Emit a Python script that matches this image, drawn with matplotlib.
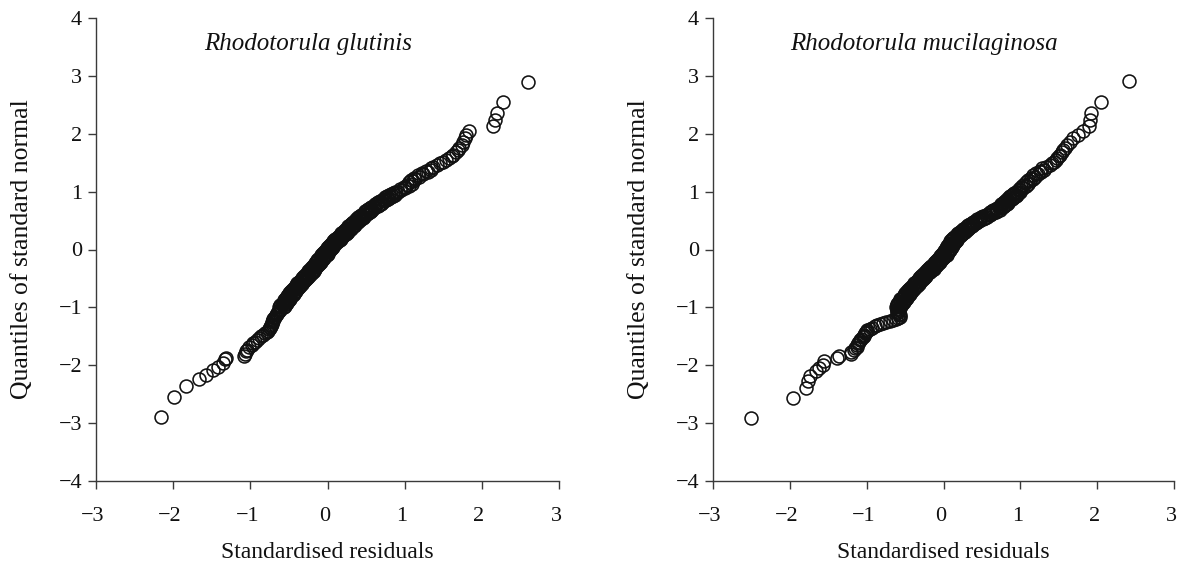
import matplotlib
matplotlib.use("Agg")
import matplotlib.pyplot as plt
from matplotlib.transforms import ScaledTranslation

plt.rcParams['font.family'] = ['Liberation Serif', 'DejaVu Serif']

# ---------------- data ----------------
titles = ["Rhodotorula glutinis", "Rhodotorula mucilaginosa"]
x_label = "Standardised residuals"
y_label = "Quantiles of standard normal"
x_ticks = [-3, -2, -1, 0, 1, 2, 3]
y_ticks = [-4, -3, -2, -1, 0, 1, 2, 3, 4]

mid_quantiles = [
    -1.00, -0.99, -0.98, -0.97, -0.96, -0.95, -0.94, -0.93, -0.92, -0.91,
    -0.90, -0.89, -0.88, -0.87, -0.86, -0.85, -0.84, -0.83, -0.82, -0.81,
    -0.80, -0.79, -0.78, -0.77, -0.76, -0.75, -0.74, -0.73, -0.72, -0.71,
    -0.70, -0.69, -0.68, -0.67, -0.66, -0.65, -0.64, -0.63, -0.62, -0.61,
    -0.60, -0.59, -0.58, -0.57, -0.56, -0.55, -0.54, -0.53, -0.52, -0.51,
    -0.50, -0.49, -0.48, -0.47, -0.46, -0.45, -0.44, -0.43, -0.42, -0.41,
    -0.40, -0.39, -0.38, -0.37, -0.36, -0.35, -0.34, -0.33, -0.32, -0.31,
    -0.30, -0.29, -0.28, -0.27, -0.26, -0.25, -0.24, -0.23, -0.22, -0.21,
    -0.20, -0.19, -0.18, -0.17, -0.16, -0.15, -0.14, -0.13, -0.12, -0.11,
    -0.10, -0.09, -0.08, -0.07, -0.06, -0.05, -0.04, -0.03, -0.02, -0.01,
    0.00, 0.01, 0.02, 0.03, 0.04, 0.05, 0.06, 0.07, 0.08, 0.09,
    0.10, 0.11, 0.12, 0.13, 0.14, 0.15, 0.16, 0.17, 0.18, 0.19,
    0.20, 0.21, 0.22, 0.23, 0.24, 0.25, 0.26, 0.27, 0.28, 0.29,
    0.30, 0.31, 0.32, 0.33, 0.34, 0.35, 0.36, 0.37, 0.38, 0.39,
    0.40, 0.41, 0.42, 0.43, 0.44, 0.45, 0.46, 0.47, 0.48, 0.49,
    0.50, 0.51, 0.52, 0.53, 0.54, 0.55, 0.56, 0.57, 0.58, 0.59,
    0.60, 0.61, 0.62, 0.63, 0.64, 0.65, 0.66, 0.67, 0.68, 0.69,
    0.70, 0.71, 0.72, 0.73, 0.74, 0.75, 0.76, 0.77, 0.78, 0.79,
    0.80, 0.81, 0.82, 0.83, 0.84, 0.85, 0.86, 0.87, 0.88, 0.89,
    0.90, 0.91, 0.92, 0.93, 0.94, 0.95, 0.96, 0.97, 0.98, 0.99,
]

# Rhodotorula glutinis
glutinis_quantiles = [
    -2.90, -2.55, -2.36, -2.24, -2.17, -2.08, -2.03, -1.96, -1.90, -1.87,
    -1.84, -1.80, -1.76, -1.73, -1.69, -1.65, -1.62, -1.59, -1.56, -1.53,
    -1.50, -1.47, -1.45, -1.42, -1.40, -1.38, -1.36, -1.34, -1.32, -1.30,
    -1.28, -1.26, -1.24, -1.22, -1.20, -1.18, -1.16, -1.14, -1.12, -1.10,
    -1.08, -1.06, -1.04, -1.02,
] + mid_quantiles + [
    1.00, 1.02, 1.04, 1.06, 1.08, 1.10, 1.12, 1.14, 1.16, 1.18,
    1.20, 1.22, 1.24, 1.26, 1.28, 1.30, 1.32, 1.34, 1.36, 1.38,
    1.40, 1.43, 1.46, 1.49, 1.52, 1.55, 1.58, 1.61, 1.64, 1.68,
    1.72, 1.76, 1.81, 1.86, 1.92, 1.98, 2.04, 2.13, 2.24, 2.36,
    2.55, 2.90,
]
glutinis_residuals = [
    -2.16, -1.99, -1.83, -1.66, -1.58, -1.49, -1.42, -1.35, -1.33, -1.31,
    -1.08, -1.07, -1.05, -1.04, -1.02, -0.98, -0.96, -0.94, -0.92, -0.89,
    -0.86, -0.83, -0.81, -0.79, -0.77, -0.76, -0.75, -0.74, -0.73, -0.73,
    -0.72, -0.72, -0.71, -0.71, -0.70, -0.69, -0.68, -0.67, -0.66, -0.65,
    -0.64, -0.63, -0.62, -0.61,
    -0.63, -0.56, -0.62, -0.55, -0.61, -0.54, -0.59, -0.53, -0.58, -0.52,
    -0.57, -0.51, -0.56, -0.50, -0.55, -0.49, -0.54, -0.48, -0.53, -0.47,
    -0.52, -0.45, -0.51, -0.44, -0.50, -0.43, -0.48, -0.42, -0.47, -0.41,
    -0.46, -0.39, -0.45, -0.38, -0.44, -0.37, -0.42, -0.36, -0.41, -0.35,
    -0.40, -0.33, -0.39, -0.32, -0.37, -0.31, -0.36, -0.29, -0.34, -0.28,
    -0.33, -0.26, -0.32, -0.25, -0.30, -0.24, -0.29, -0.22, -0.27, -0.21,
    -0.26, -0.19, -0.25, -0.18, -0.24, -0.17, -0.22, -0.16, -0.21, -0.15,
    -0.20, -0.13, -0.19, -0.12, -0.18, -0.11, -0.16, -0.10, -0.15, -0.09,
    -0.14, -0.07, -0.13, -0.06, -0.12, -0.05, -0.10, -0.04, -0.09, -0.03,
    -0.08, -0.01, -0.07, 0.00, -0.06, 0.01, -0.04, 0.02, -0.03, 0.03,
    -0.02, 0.05, -0.01, 0.06, 0.00, 0.07, 0.02, 0.08, 0.03, 0.09,
    0.04, 0.11, 0.06, 0.12, 0.07, 0.14, 0.09, 0.16, 0.10, 0.17,
    0.12, 0.19, 0.14, 0.20, 0.15, 0.22, 0.17, 0.24, 0.18, 0.25,
    0.20, 0.27, 0.21, 0.28, 0.23, 0.30, 0.24, 0.31, 0.26, 0.32,
    0.27, 0.34, 0.29, 0.35, 0.30, 0.37, 0.32, 0.39, 0.33, 0.40,
    0.35, 0.42, 0.37, 0.44, 0.39, 0.46, 0.40, 0.47, 0.42, 0.49,
    0.44, 0.51, 0.46, 0.53, 0.48, 0.55, 0.49, 0.56, 0.51, 0.58,
    0.53, 0.60, 0.55, 0.62, 0.57, 0.65, 0.60, 0.67, 0.62, 0.69,
    0.64, 0.71, 0.66, 0.73, 0.68, 0.76, 0.71, 0.78, 0.73, 0.80,
    0.75, 0.82, 0.77, 0.85, 0.80, 0.87, 0.82, 0.89, 0.85, 0.92,
    0.88, 0.95, 0.94, 1.00, 0.99, 1.05, 1.03, 1.09, 1.06, 1.11,
    1.08, 1.14, 1.12, 1.18, 1.17, 1.24, 1.23, 1.30, 1.28, 1.34,
    1.34, 1.37, 1.42, 1.46, 1.50, 1.54, 1.58, 1.61, 1.63, 1.66,
    1.69, 1.71, 1.74, 1.76, 1.78, 1.80, 1.83, 2.15, 2.17, 2.20,
    2.28, 2.60,
]

# Rhodotorula mucilaginosa
mucilaginosa_quantiles = [
    -2.92, -2.56, -2.39, -2.27, -2.19, -2.10, -2.05, -1.99, -1.93, -1.88,
    -1.84, -1.80, -1.77, -1.74, -1.71, -1.68, -1.65, -1.62, -1.59, -1.57,
    -1.55, -1.52, -1.50, -1.47, -1.45, -1.43, -1.41, -1.39, -1.37, -1.35,
    -1.33, -1.31, -1.29, -1.27, -1.25, -1.23, -1.21, -1.20, -1.18, -1.16,
    -1.14, -1.12, -1.10, -1.08, -1.06, -1.04, -1.02,
] + mid_quantiles + [
    1.00, 1.02, 1.04, 1.06, 1.08, 1.10, 1.12, 1.14, 1.16, 1.18,
    1.20, 1.22, 1.24, 1.26, 1.28, 1.30, 1.32, 1.34, 1.36, 1.38,
    1.40, 1.43, 1.46, 1.49, 1.52, 1.55, 1.58, 1.61, 1.64, 1.68,
    1.72, 1.76, 1.81, 1.86, 1.92, 1.98, 2.04, 2.13, 2.24, 2.36,
    2.55, 2.91,
]
mucilaginosa_residuals = [
    -2.50, -1.96, -1.79, -1.77, -1.74, -1.66, -1.62, -1.57, -1.56, -1.39,
    -1.36, -1.20, -1.20, -1.17, -1.15, -1.13, -1.12, -1.11, -1.10, -1.09,
    -1.07, -1.05, -1.04, -1.03, -1.02, -1.01, -1.00, -0.99, -0.96, -0.93,
    -0.89, -0.86, -0.83, -0.79, -0.75, -0.70, -0.66, -0.62, -0.59, -0.57,
    -0.57, -0.58, -0.60, -0.59, -0.61, -0.58, -0.60,
    -0.62, -0.56, -0.61, -0.55, -0.60, -0.54, -0.60, -0.53, -0.59, -0.52,
    -0.58, -0.51, -0.57, -0.50, -0.56, -0.49, -0.54, -0.48, -0.53, -0.47,
    -0.52, -0.45, -0.51, -0.44, -0.50, -0.43, -0.48, -0.42, -0.47, -0.41,
    -0.46, -0.39, -0.45, -0.38, -0.43, -0.37, -0.42, -0.35, -0.40, -0.34,
    -0.39, -0.32, -0.38, -0.31, -0.36, -0.30, -0.35, -0.28, -0.33, -0.27,
    -0.32, -0.25, -0.31, -0.24, -0.29, -0.23, -0.28, -0.21, -0.26, -0.20,
    -0.25, -0.18, -0.23, -0.17, -0.22, -0.15, -0.20, -0.13, -0.19, -0.12,
    -0.17, -0.10, -0.16, -0.09, -0.14, -0.08, -0.13, -0.06, -0.11, -0.05,
    -0.10, -0.03, -0.09, -0.02, -0.07, -0.01, -0.06, 0.01, -0.04, 0.02,
    -0.03, 0.04, -0.02, 0.05, -0.01, 0.06, 0.00, 0.07, 0.01, 0.08,
    0.02, 0.09, 0.03, 0.10, 0.04, 0.11, 0.05, 0.12, 0.06, 0.13,
    0.07, 0.14, 0.08, 0.15, 0.09, 0.16, 0.10, 0.17, 0.11, 0.18,
    0.12, 0.19, 0.14, 0.21, 0.16, 0.23, 0.17, 0.24, 0.19, 0.26,
    0.21, 0.28, 0.23, 0.30, 0.25, 0.32, 0.26, 0.33, 0.28, 0.35,
    0.30, 0.37, 0.32, 0.39, 0.34, 0.42, 0.37, 0.44, 0.39, 0.46,
    0.41, 0.48, 0.44, 0.51, 0.47, 0.54, 0.49, 0.57, 0.52, 0.60,
    0.55, 0.62, 0.58, 0.65, 0.60, 0.68, 0.63, 0.70, 0.65, 0.73,
    0.68, 0.75, 0.70, 0.77, 0.72, 0.79, 0.73, 0.80, 0.75, 0.82,
    0.77, 0.84, 0.79, 0.85, 0.80, 0.87, 0.82, 0.89, 0.83, 0.90,
    0.85, 0.92, 0.87, 0.94, 0.89, 0.96, 0.90, 0.97, 0.92, 0.99,
    0.95, 1.00, 0.98, 1.04, 1.01, 1.07, 1.04, 1.10, 1.07, 1.13,
    1.10, 1.16, 1.14, 1.19, 1.17, 1.23, 1.21, 1.27, 1.25, 1.31,
    1.28, 1.34, 1.38, 1.41, 1.44, 1.46, 1.48, 1.50, 1.51, 1.54,
    1.56, 1.58, 1.61, 1.64, 1.69, 1.75, 1.82, 1.89, 1.91, 1.92,
    2.05, 2.42,
]

panels = [
    (titles[0], glutinis_residuals, glutinis_quantiles),
    (titles[1], mucilaginosa_residuals, mucilaginosa_quantiles),
]

# ---------------- drawing ----------------
W, H = 1178, 563
fig = plt.figure(figsize=(W / 100, H / 100), dpi=100)

axes_px = [(96, 559), (713, 1174)]
top_px, bottom_px = 18, 481
spine_col = "#3a3a3a"
text_col = "#111111"
shift_left = ScaledTranslation(-3 / 100, 0, fig.dpi_scale_trans)

for (title, xs, ys), (x0, x1) in zip(panels, axes_px):
    ax = fig.add_axes([x0 / W, 1 - bottom_px / H, (x1 - x0) / W, (bottom_px - top_px) / H])
    ax.plot(xs, ys, linestyle="none", marker="o", markersize=9.3,
            markerfacecolor="none", markeredgecolor="#111111",
            markeredgewidth=1.15, clip_on=False)
    ax.set_xlim(-3, 3)
    ax.set_ylim(-4, 4)
    ax.set_xticks(x_ticks)
    ax.set_yticks(y_ticks)
    for s in ["top", "right"]:
        ax.spines[s].set_visible(False)
    for s in ["left", "bottom"]:
        ax.spines[s].set_color(spine_col)
        ax.spines[s].set_linewidth(1.0)
    ax.tick_params(direction="out", length=6, width=1.0, color=spine_col,
                   labelsize=16, labelcolor=text_col)
    ax.tick_params(axis="x", pad=13)
    ax.tick_params(axis="y", pad=4)
    for lbl in ax.get_xticklabels():
        lbl.set_transform(lbl.get_transform() + shift_left)
    ax.set_xlabel(x_label, fontsize=17, color=text_col, labelpad=11)
    ax.set_ylabel(y_label, fontsize=18.5, color=text_col, labelpad=18)
    ax.text(-0.25, 3.55, title, ha="center", va="center", fontsize=18,
            style="italic", color=text_col)

fig.savefig("out.png", dpi=100)
